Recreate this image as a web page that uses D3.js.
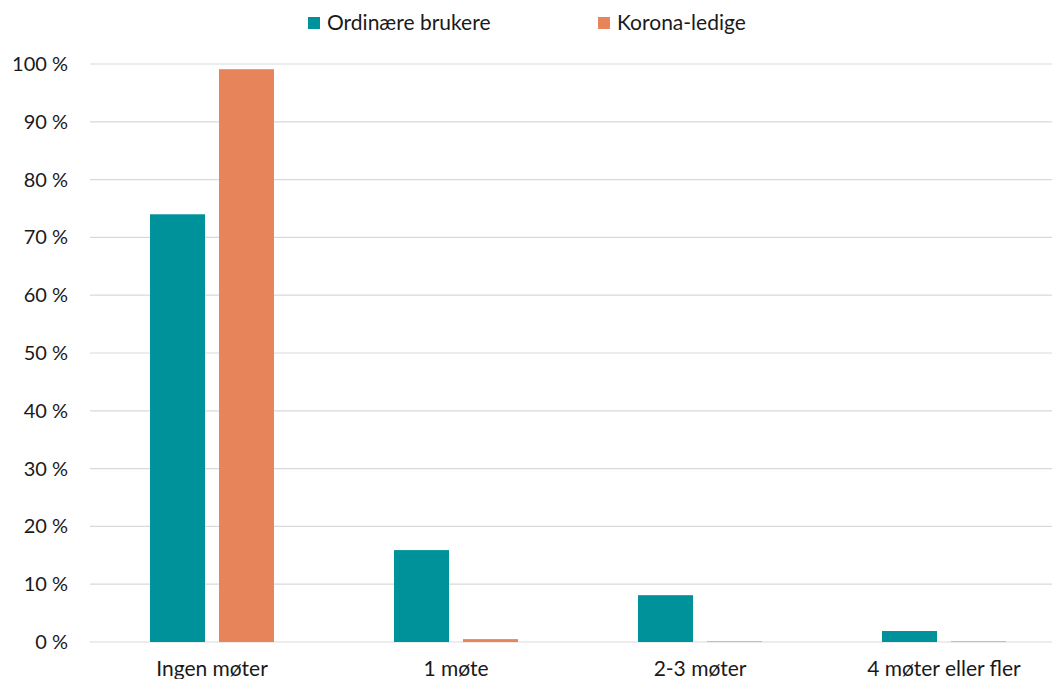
<!DOCTYPE html>
<html><head><meta charset="utf-8">
<script src="https://cdn.jsdelivr.net/npm/d3@7"></script>
<style>body{margin:0;background:#fff;} text{font-family:Lato,"Open Sans",sans-serif;fill:#1a1a1a;}</style>
</head><body><svg id="c" width="1052" height="679"></svg>
<script>
const categories = ["Ingen møter", "1 møte", "2-3 møter", "4 møter eller fler"];
const seriesNames = ["Ordinære brukere", "Korona-ledige"];
const ordinaere = [74.0, 15.9, 8.1, 1.9];
const korona = [99.1, 0.5, 0.1, 0.1];
const yTicks = [0, 10, 20, 30, 40, 50, 60, 70, 80, 90, 100];
const colors = ["#00929B", "#E8845A"];

const svg = d3.select("#c");
const x = d3.scaleBand().domain(categories).range([90, 1066]).paddingInner(0).paddingOuter(0);
const y = d3.scaleLinear().domain([0, 100]).range([642, 64]);

svg.append("g").selectAll("line").data(yTicks).join("line")
  .attr("x1", 90).attr("x2", 1052)
  .attr("y1", d => y(d)).attr("y2", d => y(d))
  .attr("stroke", "#d9d9d9").attr("stroke-width", 1.2);

const yAxis = d3.axisLeft(y).tickValues(yTicks).tickFormat(d => d + " %").tickSize(0).tickPadding(0);
const ga = svg.append("g").attr("transform", "translate(68,0)").call(yAxis);
ga.select(".domain").remove();
ga.selectAll("text").style("font-size", "20px").attr("fill", "#1a1a1a").attr("font-family", "Lato");

const barW = 55, gap = 14;
const sub = d3.scaleOrdinal().domain([0,1]).range([-(gap/2 + barW), gap/2]);
const data = [ordinaere, korona];
data.forEach((vals, si) => {
  svg.append("g").selectAll("rect").data(vals).join("rect")
    .attr("x", (d, i) => x(categories[i]) + x.bandwidth()/2 + sub(si))
    .attr("width", barW)
    .attr("y", d => y(d))
    .attr("height", d => y(0) - y(d))
    .attr("fill", colors[si]);
});

const xAxis = d3.axisBottom(x).tickSize(0).tickPadding(0);
const gx = svg.append("g").attr("transform", "translate(0,661)").call(xAxis);
gx.select(".domain").remove();
gx.selectAll("text").style("font-size", "21px").attr("fill", "#1a1a1a").attr("font-family", "Lato");

const legX = [308, 598];
seriesNames.forEach((n, i) => {
  const g = svg.append("g").attr("transform", `translate(${legX[i]},17)`);
  g.append("rect").attr("width", 12).attr("height", 12).attr("fill", colors[i]);
  g.append("text").attr("x", 19).attr("y", 13).style("font-size", "21px").text(n);
});
</script></body></html>
